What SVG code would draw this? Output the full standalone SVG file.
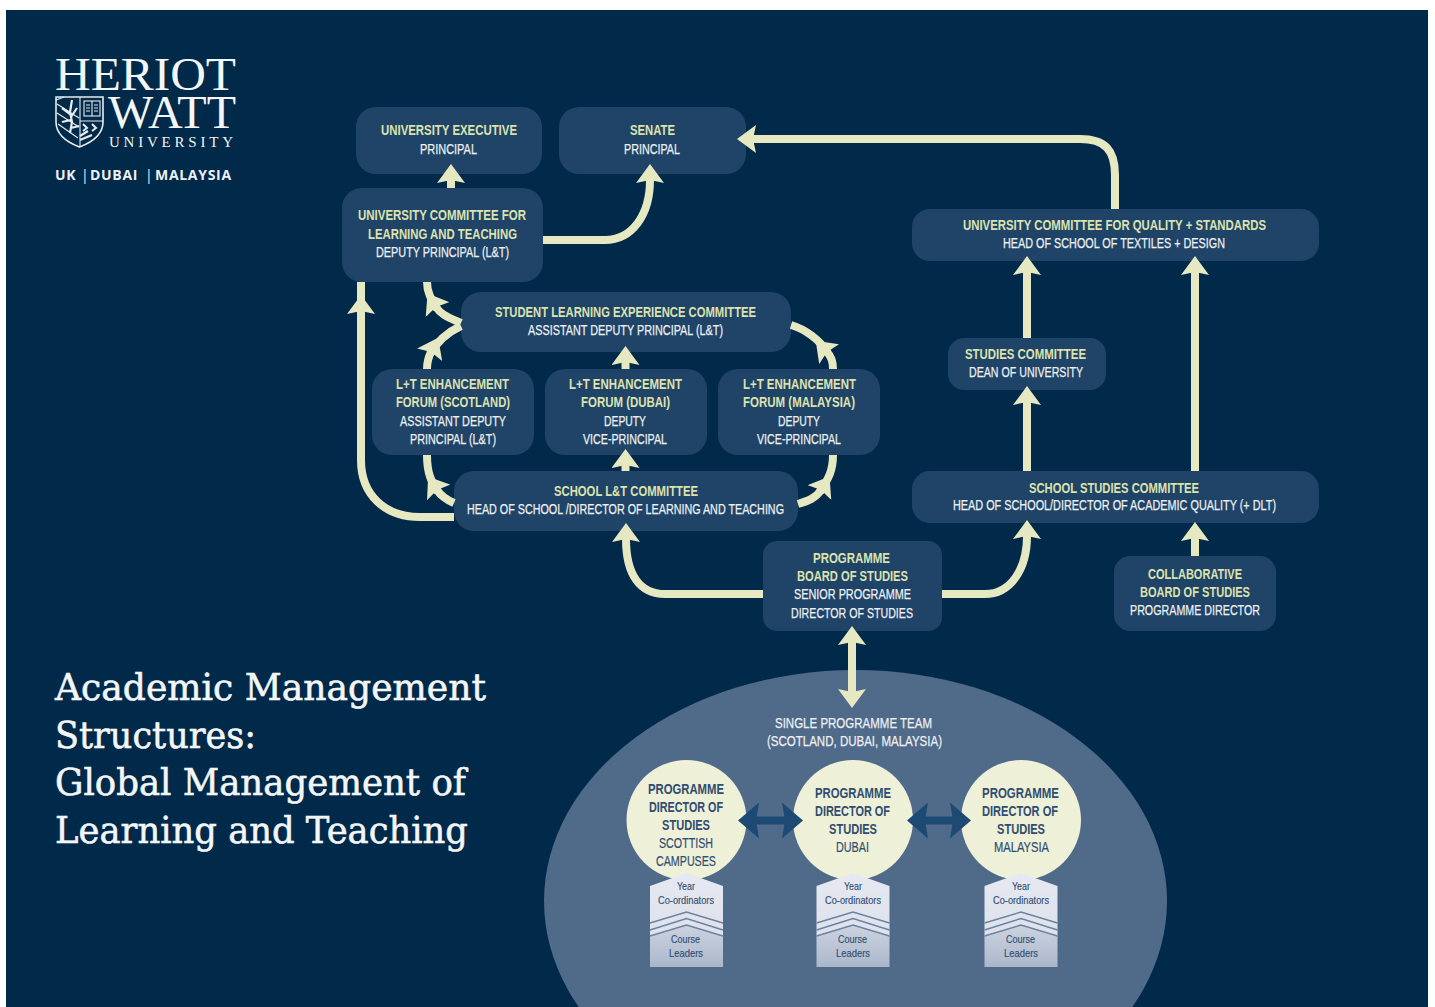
<svg xmlns="http://www.w3.org/2000/svg" xmlns:xlink="http://www.w3.org/1999/xlink" width="1435" height="1007" viewBox="0 0 1435 1007">
<style>
text{font-family:"Liberation Sans",Arial,sans-serif;font-size:15px;transform:translateY(-.8px)}
.y{fill:#dce2ae;font-weight:bold}
.w{fill:#eef1f2;stroke:#eef1f2;stroke-width:.25}
.n{fill:#204468}
.d{fill:#2f4d70;font-weight:bold}
.r{fill:#2f4d70;stroke:#2f4d70;stroke-width:.2}
.s{font-size:11.5px;fill:#2f4d70;stroke:#2f4d70;stroke-width:.15}
.c{fill:none;stroke:#e6e8c2;stroke-width:8}
.b{fill:none;stroke:#1c4a74;stroke-width:8}
.t{font-family:"DejaVu Serif",serif;font-size:38px;fill:#f4f6f6;stroke:#f4f6f6;stroke-width:.6;transform:none}
.l1{font-family:"Liberation Serif",serif;font-size:46px;fill:#f4f6f6;transform:none}
.l2{font-family:"Liberation Serif",serif;font-size:15px;fill:#f4f6f6;transform:none}
.l3{font-family:"Open Sans","Liberation Sans",sans-serif;font-size:14px;font-weight:bold;letter-spacing:.7px;fill:#eef1f2;transform:none}
.l3 .p{font-weight:normal}
.sh{fill:none;stroke:#e8ecee;stroke-width:1.1}
.ch{fill:none;stroke:#6b82a0;stroke-width:1.4}
</style>
<defs>
<marker id="h" markerUnits="userSpaceOnUse" markerWidth="20" markerHeight="28" refX="3" refY="14" orient="auto"><path d="M0,0L19,14L0,28L3,14Z" fill="#e6e8c2"/></marker>
<marker id="hs" markerUnits="userSpaceOnUse" markerWidth="20" markerHeight="28" refX="3" refY="14" orient="auto-start-reverse"><path d="M0,0L19,14L0,28L3,14Z" fill="#e6e8c2"/></marker>
<marker id="bh" markerUnits="userSpaceOnUse" markerWidth="24" markerHeight="36" refX="3" refY="18" orient="auto-start-reverse"><path d="M0,0L21,18L0,36L3,18Z" fill="#1c4a74"/></marker>
<linearGradient id="up" x1="0" y1="0" x2="0" y2="1"><stop offset="0" stop-color="#e6e9f1"/><stop offset="1" stop-color="#dde1eb"/></linearGradient>
<linearGradient id="lo" x1="0" y1="0" x2="0" y2="1"><stop offset="0" stop-color="#ccd3e0"/><stop offset="1" stop-color="#aab7cb"/></linearGradient>
<g id="pent">
<path d="M-36.5,886L0,873L36.5,886V936L0,925L-36.5,936Z" fill="url(#up)"/>
<path d="M-36.5,936L0,925L36.5,936V967H-36.5Z" fill="url(#lo)"/>
<path class="ch" d="M-36.5,923L0,912L36.5,923M-36.5,930L0,918.5L36.5,930M-36.5,936L0,925L36.5,936"/>
</g>
</defs>
<rect width="1435" height="1007" fill="#fff"/>
<rect x="6" y="10" width="1422" height="997" fill="#00294a"/>

<g id="logo">
<text class="l1" x="55" y="90" textLength="181" lengthAdjust="spacingAndGlyphs">HERIOT</text>
<text class="l1" x="108" y="128" textLength="128" lengthAdjust="spacingAndGlyphs">WATT</text>
<text class="l2" x="109" y="147" textLength="124">UNIVERSITY</text>
<text class="l3" y="180"><tspan x="55">UK</tspan><tspan class="p" x="81">|</tspan><tspan x="90">DUBAI</tspan><tspan class="p" x="145">|</tspan><tspan x="155">MALAYSIA</tspan></text>
<path class="sh" style="stroke-width:1.6" d="M56,97H103V122C103,135 90,143 79.5,147C69,143 56,135 56,122Z"/>
<path class="sh" d="M80,97V146M80,121H103M57,104L79,118M57,113L79,127M58,124L78,138M56,100L64,97"/>
<path class="sh" style="stroke-width:2.2" d="M72,100L70,112L72,122L70,133M62,108L70,114M77,108L71,117M62,122L71,120M79,126L71,128M80,136L88,131M80,140L92,135"/>
<rect class="sh" x="84" y="101" width="16" height="15"/>
<path class="sh" d="M92,101V116M86,105H90M86,108H90M86,111H90M94,105H98M94,108H98M94,111H98"/>
<path class="sh" style="stroke-width:2" d="M83,124L87,128L83,131M92,124L96,128L92,131"/>
</g>

<g id="title">
<text class="t" x="55" y="700" textLength="431" lengthAdjust="spacingAndGlyphs">Academic Management</text>
<text class="t" x="55" y="748" textLength="201" lengthAdjust="spacingAndGlyphs">Structures:</text>
<text class="t" x="55" y="795" textLength="411" lengthAdjust="spacingAndGlyphs">Global Management of</text>
<text class="t" x="55" y="843" textLength="413" lengthAdjust="spacingAndGlyphs">Learning and Teaching</text>
</g>

<g id="team">
<ellipse cx="855.5" cy="901" rx="311.5" ry="231" fill="#506a8a"/>
<text class="w" x="775" y="729" textLength="157" lengthAdjust="spacingAndGlyphs">SINGLE PROGRAMME TEAM</text>
<text class="w" x="767" y="747" textLength="175" lengthAdjust="spacingAndGlyphs">(SCOTLAND, DUBAI, MALAYSIA)</text>
</g>

<g id="node-uni-exec"><rect class="n" x="356" y="107" width="186" height="67" rx="20"/>
<text class="y" x="381" y="136" textLength="136" lengthAdjust="spacingAndGlyphs">UNIVERSITY EXECUTIVE</text>
<text class="w" x="420" y="155" textLength="57" lengthAdjust="spacingAndGlyphs">PRINCIPAL</text></g>

<g id="node-senate"><rect class="n" x="559" y="107" width="187" height="67" rx="20"/>
<text class="y" x="630" y="136" textLength="45" lengthAdjust="spacingAndGlyphs">SENATE</text>
<text class="w" x="624" y="155" textLength="56" lengthAdjust="spacingAndGlyphs">PRINCIPAL</text></g>

<g id="node-uclt"><rect class="n" x="342" y="188" width="201" height="94" rx="20"/>
<text class="y" x="358" y="221" textLength="168" lengthAdjust="spacingAndGlyphs">UNIVERSITY COMMITTEE FOR</text>
<text class="y" x="368" y="240" textLength="149" lengthAdjust="spacingAndGlyphs">LEARNING AND TEACHING</text>
<text class="w" x="376" y="258" textLength="133" lengthAdjust="spacingAndGlyphs">DEPUTY PRINCIPAL (L&amp;T)</text></g>

<g id="node-slec"><rect class="n" x="461" y="292" width="330" height="60" rx="20"/>
<text class="y" x="495" y="318" textLength="261" lengthAdjust="spacingAndGlyphs">STUDENT LEARNING EXPERIENCE COMMITTEE</text>
<text class="w" x="528" y="336" textLength="195" lengthAdjust="spacingAndGlyphs">ASSISTANT DEPUTY PRINCIPAL (L&amp;T)</text></g>

<g id="node-forum-scotland"><rect class="n" x="372" y="369" width="162" height="86" rx="20"/>
<text class="y" x="396" y="390" textLength="113" lengthAdjust="spacingAndGlyphs">L+T ENHANCEMENT</text>
<text class="y" x="396" y="408" textLength="114" lengthAdjust="spacingAndGlyphs">FORUM (SCOTLAND)</text>
<text class="w" x="400" y="427" textLength="106" lengthAdjust="spacingAndGlyphs">ASSISTANT DEPUTY</text>
<text class="w" x="410" y="445" textLength="86" lengthAdjust="spacingAndGlyphs">PRINCIPAL (L&amp;T)</text></g>

<g id="node-forum-dubai"><rect class="n" x="545" y="369" width="162" height="86" rx="20"/>
<text class="y" x="569" y="390" textLength="113" lengthAdjust="spacingAndGlyphs">L+T ENHANCEMENT</text>
<text class="y" x="581" y="408" textLength="89" lengthAdjust="spacingAndGlyphs">FORUM (DUBAI)</text>
<text class="w" x="604" y="427" textLength="42" lengthAdjust="spacingAndGlyphs">DEPUTY</text>
<text class="w" x="583" y="445" textLength="84" lengthAdjust="spacingAndGlyphs">VICE-PRINCIPAL</text></g>

<g id="node-forum-malaysia"><rect class="n" x="718" y="369" width="162" height="86" rx="20"/>
<text class="y" x="743" y="390" textLength="113" lengthAdjust="spacingAndGlyphs">L+T ENHANCEMENT</text>
<text class="y" x="743" y="408" textLength="112" lengthAdjust="spacingAndGlyphs">FORUM (MALAYSIA)</text>
<text class="w" x="778" y="427" textLength="42" lengthAdjust="spacingAndGlyphs">DEPUTY</text>
<text class="w" x="757" y="445" textLength="84" lengthAdjust="spacingAndGlyphs">VICE-PRINCIPAL</text></g>

<g id="node-school"><rect class="n" x="454" y="471" width="344" height="60" rx="20"/>
<text class="y" x="554" y="497" textLength="144" lengthAdjust="spacingAndGlyphs">SCHOOL L&amp;T COMMITTEE</text>
<text class="w" x="467" y="515" textLength="317" lengthAdjust="spacingAndGlyphs">HEAD OF SCHOOL /DIRECTOR OF LEARNING AND TEACHING</text></g>

<g id="node-pbs"><rect class="n" x="763" y="541" width="179" height="90" rx="14"/>
<text class="y" x="813" y="564" textLength="77" lengthAdjust="spacingAndGlyphs">PROGRAMME</text>
<text class="y" x="797" y="582" textLength="111" lengthAdjust="spacingAndGlyphs">BOARD OF STUDIES</text>
<text class="w" x="794" y="600" textLength="117" lengthAdjust="spacingAndGlyphs">SENIOR PROGRAMME</text>
<text class="w" x="791" y="619" textLength="122" lengthAdjust="spacingAndGlyphs">DIRECTOR OF STUDIES</text></g>

<g id="node-ucqs"><rect class="n" x="912" y="209" width="407" height="52" rx="18"/>
<text class="y" x="963" y="231" textLength="303" lengthAdjust="spacingAndGlyphs">UNIVERSITY COMMITTEE FOR QUALITY + STANDARDS</text>
<text class="w" x="1003" y="249" textLength="222" lengthAdjust="spacingAndGlyphs">HEAD OF SCHOOL OF TEXTILES + DESIGN</text></g>

<g id="node-studies"><rect class="n" x="948" y="338" width="158" height="52" rx="16"/>
<text class="y" x="965" y="360" textLength="121" lengthAdjust="spacingAndGlyphs">STUDIES COMMITTEE</text>
<text class="w" x="969" y="378" textLength="114" lengthAdjust="spacingAndGlyphs">DEAN OF UNIVERSITY</text></g>

<g id="node-ssc"><rect class="n" x="912" y="471" width="407" height="52" rx="18"/>
<text class="y" x="1029" y="494" textLength="170" lengthAdjust="spacingAndGlyphs">SCHOOL STUDIES COMMITTEE</text>
<text class="w" x="953" y="511" textLength="323" lengthAdjust="spacingAndGlyphs">HEAD OF SCHOOL/DIRECTOR OF ACADEMIC QUALITY (+ DLT)</text></g>

<g id="node-collab"><rect class="n" x="1114" y="556" width="162" height="75" rx="16"/>
<text class="y" x="1148" y="580" textLength="94" lengthAdjust="spacingAndGlyphs">COLLABORATIVE</text>
<text class="y" x="1140" y="598" textLength="110" lengthAdjust="spacingAndGlyphs">BOARD OF STUDIES</text>
<text class="w" x="1130" y="616" textLength="130" lengthAdjust="spacingAndGlyphs">PROGRAMME DIRECTOR</text></g>

<g id="node-pd-scotland"><circle cx="686.5" cy="820" r="60" fill="#eef0d8"/>
<use xlink:href="#pent" href="#pent" x="686.5"/>
<text class="d" x="648" y="795" textLength="76" lengthAdjust="spacingAndGlyphs">PROGRAMME</text>
<text class="d" x="649" y="813" textLength="74" lengthAdjust="spacingAndGlyphs">DIRECTOR OF</text>
<text class="d" x="662" y="831" textLength="48" lengthAdjust="spacingAndGlyphs">STUDIES</text>
<text class="r" x="659" y="849" textLength="54" lengthAdjust="spacingAndGlyphs">SCOTTISH</text>
<text class="r" x="656" y="867" textLength="60" lengthAdjust="spacingAndGlyphs">CAMPUSES</text>
<text class="s" x="677" y="891" textLength="18" lengthAdjust="spacingAndGlyphs">Year</text>
<text class="s" x="658" y="905" textLength="56" lengthAdjust="spacingAndGlyphs">Co-ordinators</text>
<text class="s" x="671" y="944" textLength="29" lengthAdjust="spacingAndGlyphs">Course</text>
<text class="s" x="669" y="958" textLength="34" lengthAdjust="spacingAndGlyphs">Leaders</text></g>

<g id="node-pd-dubai"><circle cx="853" cy="820" r="60" fill="#eef0d8"/>
<use xlink:href="#pent" href="#pent" x="853"/>
<text class="d" x="815" y="799" textLength="76" lengthAdjust="spacingAndGlyphs">PROGRAMME</text>
<text class="d" x="815" y="817" textLength="75" lengthAdjust="spacingAndGlyphs">DIRECTOR OF</text>
<text class="d" x="829" y="835" textLength="48" lengthAdjust="spacingAndGlyphs">STUDIES</text>
<text class="r" x="836" y="853" textLength="33" lengthAdjust="spacingAndGlyphs">DUBAI</text>
<text class="s" x="844" y="891" textLength="18" lengthAdjust="spacingAndGlyphs">Year</text>
<text class="s" x="825" y="905" textLength="56" lengthAdjust="spacingAndGlyphs">Co-ordinators</text>
<text class="s" x="838" y="944" textLength="29" lengthAdjust="spacingAndGlyphs">Course</text>
<text class="s" x="836" y="958" textLength="34" lengthAdjust="spacingAndGlyphs">Leaders</text></g>

<g id="node-pd-malaysia"><circle cx="1021" cy="820" r="60" fill="#eef0d8"/>
<use xlink:href="#pent" href="#pent" x="1021"/>
<text class="d" x="982" y="799" textLength="77" lengthAdjust="spacingAndGlyphs">PROGRAMME</text>
<text class="d" x="982" y="817" textLength="76" lengthAdjust="spacingAndGlyphs">DIRECTOR OF</text>
<text class="d" x="997" y="835" textLength="48" lengthAdjust="spacingAndGlyphs">STUDIES</text>
<text class="r" x="994" y="853" textLength="55" lengthAdjust="spacingAndGlyphs">MALAYSIA</text>
<text class="s" x="1012" y="891" textLength="18" lengthAdjust="spacingAndGlyphs">Year</text>
<text class="s" x="993" y="905" textLength="56" lengthAdjust="spacingAndGlyphs">Co-ordinators</text>
<text class="s" x="1006" y="944" textLength="29" lengthAdjust="spacingAndGlyphs">Course</text>
<text class="s" x="1004" y="958" textLength="34" lengthAdjust="spacingAndGlyphs">Leaders</text></g>

<g id="connectors">
<path class="c" marker-end="url(#h)" d="M451,188V180"/>
<path class="c" marker-end="url(#h)" d="M543,240H605C632,240 650,215 650,180"/>
<path class="c" marker-end="url(#h)" d="M1115,209V175C1115,150 1105,139 1080,139H753"/>
<path class="c" marker-end="url(#h)" d="M454,517H420C385,517 361,495 361,460V311"/>
<path class="c" d="M361,312V282"/>
<path class="c" marker-end="url(#h)" d="M461,323C450,318 441,315 436,307"/>
<path class="c" d="M437,309C431,299 427,292 427,282"/>
<path class="c" marker-end="url(#h)" d="M427,369C427,363 428,358 431,352"/>
<path class="c" d="M430,354C438,340 448,332 461,326"/>
<path class="c" marker-end="url(#h)" d="M454,503C447,500 441,496 437,490"/>
<path class="c" d="M438,492C431,481 427,473 427,455"/>
<path class="c" marker-end="url(#h)" d="M833,369C833,362 831,356 827,352"/>
<path class="c" d="M828,353C820,340 805,329 791,325"/>
<path class="c" marker-end="url(#h)" d="M798,504C808,501 816,498 821,490"/>
<path class="c" d="M820,492C829,478 833,470 833,455"/>
<path class="c" marker-end="url(#h)" d="M625.5,369V362"/>
<path class="c" marker-end="url(#h)" d="M625.5,471V465"/>
<path class="c" marker-end="url(#h)" d="M763,594H665C640,594 626,575 626,539"/>
<path class="c" marker-end="url(#h)" d="M942,594H985C1010,594 1027,570 1027,536"/>
<path class="c" marker-end="url(#h)" d="M1027,338V272"/>
<path class="c" marker-end="url(#h)" d="M1027,471V402"/>
<path class="c" marker-end="url(#h)" d="M1195,471V272"/>
<path class="c" marker-end="url(#h)" d="M1195,556V538"/>
<path class="c" marker-start="url(#hs)" marker-end="url(#hs)" d="M852,642V692"/>
<path class="b" marker-start="url(#bh)" marker-end="url(#bh)" d="M756,820.5H785"/>
<path class="b" marker-start="url(#bh)" marker-end="url(#bh)" d="M925,820.5H953"/>
</g>
</svg>
